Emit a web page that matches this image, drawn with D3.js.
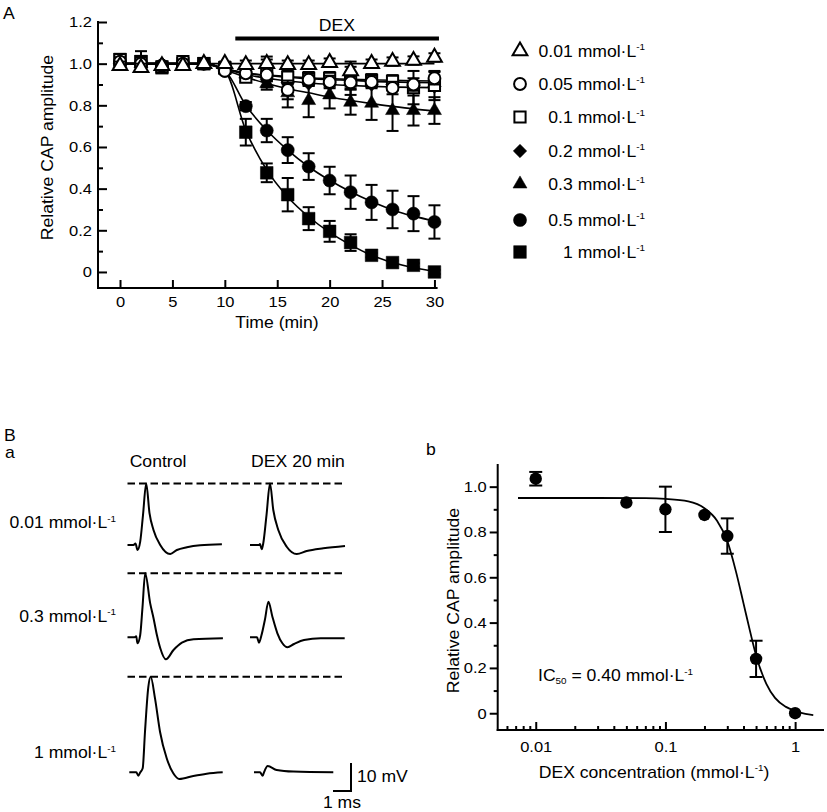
<!DOCTYPE html>
<html><head><meta charset="utf-8">
<script src="https://cdn.jsdelivr.net/npm/d3@7"></script>
<style>
body{margin:0;background:#fff}
svg{display:block}
text{font-family:"Liberation Sans",Arial,Helvetica,sans-serif;fill:#000}
</style>
</head><body>
<svg id="c" width="827" height="812"></svg>
<script>
// ---------------- DATA ----------------
// Panel A: time course (min)
const times = [0,2,4,6,8,10,12,14,16,18,20,22,24,26,28,30];
const concLabels = ["0.01","0.05","0.1","0.2","0.3","0.5","1"];
const mean001 = [0.99,0.98,0.99,0.99,1.0,1.0,0.995,1.0,0.995,0.995,1.005,0.965,1.0,1.01,1.015,1.03];
const err001  = [0.02,0.02,0.01,0.01,0.01,0.01,0.02,0.02,0.02,0.02,0.02,0.02,0.02,0.02,0.02,0.02];
const mean005 = [1.01,1.0,0.99,1.0,1.0,0.965,0.954,0.947,0.874,0.923,0.912,0.91,0.912,0.883,0.9,0.93];
const err005  = [0.02,0.03,0.01,0.01,0.01,0.01,0.02,0.03,0.045,0.03,0.03,0.03,0.03,0.03,0.03,0.03];
const mean01  = [1.02,1.01,0.985,1.01,1.0,0.98,0.935,0.96,0.935,0.93,0.93,0.93,0.92,0.915,0.885,0.895];
const err01   = [0.02,0.05,0.01,0.02,0.01,0.01,0.02,0.074,0.03,0.03,0.03,0.08,0.03,0.03,0.08,0.07];
const mean02  = [1.0,1.0,1.0,1.0,1.0,0.975,0.95,0.925,0.91,0.905,0.9,0.9,0.9,0.9,0.895,0.89];
const err02   = [0.01,0.01,0.01,0.01,0.01,0.01,0.01,0.01,0.01,0.01,0.01,0.01,0.01,0.01,0.01,0.01];
const mean03  = [1.0,1.0,0.99,1.0,1.0,0.99,0.95,0.905,0.86,0.823,0.85,0.815,0.81,0.775,0.775,0.775];
const err03   = [0.01,0.01,0.01,0.01,0.01,0.01,0.02,0.03,0.07,0.08,0.065,0.06,0.08,0.098,0.072,0.064];
const mean05  = [1.0,1.0,0.99,1.0,1.0,0.965,0.796,0.679,0.585,0.506,0.439,0.383,0.334,0.300,0.280,0.240];
const err05   = [0.01,0.01,0.01,0.01,0.01,0.01,0.02,0.056,0.062,0.064,0.066,0.08,0.084,0.09,0.084,0.08];
const mean1   = [1.02,1.01,0.98,1.0,1.0,0.98,0.671,0.476,0.371,0.256,0.195,0.141,0.08,0.045,0.032,0.0];
const err1    = [0.02,0.02,0.01,0.01,0.01,0.01,0.064,0.045,0.08,0.055,0.05,0.04,0.01,0.01,0.01,0.01];
// fitted curves
const fitTimes = [0,8,10,12,14,16,18,20,22,24,26,28,30];
const fit001 = [1,1,1,1,1,1,1,1,1,1,1,1,1];
const fit005 = [1,1,0.975,0.955,0.945,0.938,0.932,0.928,0.925,0.922,0.92,0.918,0.917];
const fit01  = [1,1,0.975,0.955,0.943,0.935,0.928,0.923,0.92,0.915,0.912,0.91,0.908];
const fit02  = [1,1,0.975,0.948,0.93,0.917,0.907,0.9,0.895,0.891,0.888,0.886,0.885];
const fit03  = [1,1,0.97,0.935,0.905,0.88,0.86,0.84,0.823,0.808,0.795,0.783,0.773];
const fit05  = [1,1,0.965,0.80,0.68,0.585,0.505,0.44,0.385,0.338,0.298,0.268,0.245];
const fit1   = [1,1,0.965,0.68,0.49,0.36,0.265,0.19,0.13,0.08,0.045,0.02,0.003];
const yTicksA = [0,0.2,0.4,0.6,0.8,1.0,1.2];
const yMinorA = [0.1,0.3,0.5,0.7,0.9,1.1];
const xTicksA = [0,5,10,15,20,25,30];
const dexBar = [11,30];   // DEX application period (min)

// Panel Ba: CAP traces (ms, mV)
const rowLabels = ["0.01","0.3","1"];
const colLabels = ["Control","DEX 20 min"];
const tr1c_t = [0,0.333,0.444,0.556,0.706,0.861,1.039,1.222,1.444,1.817,2.372,2.744,3.3,4.039,5.244];
const tr1c_v = [0,0,0.54,-1.79,1.18,10.7,22.0,11.4,5.36,0,-3.21,-1.79,-0.82,-0.11,0.25];
const tr1d_t = [0,0.5,0.556,0.65,0.739,0.917,1.111,1.294,1.572,2.039,2.594,3.15,4.072,5.278];
const tr1d_v = [0,0,0.36,-1.54,0.71,10.7,22.0,12.5,5.36,-0.61,-3.21,-2.14,-1.18,-0.36];
const tr2c_t = [0,0.389,0.483,0.556,0.706,0.833,0.983,1.261,1.444,1.633,1.817,2.133,2.556,3.022,3.667,5.3];
const tr2c_v = [0,0,0.36,-2.14,0.82,10.7,22.9,12.1,6.89,0.82,-3.82,-7.86,-4.54,-1.93,-0.71,-0.36];
const tr2d_t = [0,0.389,0.5,0.633,0.833,1.022,1.244,1.522,1.8,2.078,2.444,3,3.928,5.261];
const tr2d_v = [0,0,-1.93,0.61,6.43,12.7,7.36,1.43,-2.14,-3.57,-2.39,-0.96,-0.36,-0.36];
const tr3c_t = [0.1,0.489,0.6,0.711,0.844,0.972,1.156,1.289,1.528,1.806,2.178,2.544,2.878,3.656,4.4,5.289];
const tr3c_v = [0,0,-1.21,0,1.43,14.5,30.4,34.1,26.4,14.5,5,-0.36,-2.39,-1.32,-0.5,0];
const tr3d_t = [0.222,0.556,0.706,0.778,0.983,1.483,2.406,4.628];
const tr3d_v = [0,0,-1.21,0,2.25,0.82,0.25,0];
const scaleBarMs = 1, scaleBarMv = 10;

// Panel Bb: concentration-response
const concB = [0.01,0.05,0.1,0.2,0.3,0.5,1];
const ampB  = [1.035,0.93,0.90,0.875,0.782,0.24,0.0];
const errB  = [0.03,0.0,0.10,0.0,0.078,0.08,0.0];
const fitB_x = [0.0073,0.03,0.07,0.1,0.15,0.2,0.25,0.3,0.35,0.4,0.45,0.5,0.6,0.7,0.85,1,1.2,1.38];
const fitB_y = [0.95,0.95,0.949,0.946,0.935,0.905,0.85,0.76,0.625,0.485,0.36,0.255,0.13,0.068,0.028,0.01,-0.003,-0.008];
const yTicksB = [0,0.2,0.4,0.6,0.8,1.0];
const yMinorB = [0.1,0.3,0.5,0.7,0.9];
const xTicksB = [0.01,0.1,1];
const xMinorB = [0.006,0.007,0.008,0.009,0.02,0.03,0.04,0.05,0.06,0.07,0.08,0.09,0.2,0.3,0.4,0.5,0.6,0.7,0.8,0.9];

// ---------------- HELPERS ----------------
const svg = d3.select('#c');
const SX = 1.1;
function label(g, x, y, parts, o = {}) {
  const size = o.size || 16;
  const t = g.append('text')
    .attr('transform', `translate(${x},${y})${o.rot ? ' rotate(-90)' : ''} scale(${SX},1)`)
    .attr('font-size', size)
    .attr('text-anchor', o.anchor || 'start');
  if (typeof parts === 'string') parts = [[parts]];
  let cur = 0;
  parts.forEach(([s, mode]) => {
    let target = 0, fs = size;
    if (mode === 'sup') { target = -size * 0.38; fs = size * 0.56; }
    if (mode === 'sub') { target = size * 0.2; fs = size * 0.56; }
    const ts = t.append('tspan').text(s).attr('font-size', fs);
    if (target !== cur) ts.attr('dy', target - cur);
    cur = target;
  });
  return t;
}
const unit = (pre) => [[pre + ' mmol·L'], ['-1', 'sup']];

// ---------------- PANEL A ----------------
const gA = svg.append('g');
const xA = d3.scaleLinear().domain([-2.1, 30.3]).range([98, 437.6]);
const yA = d3.scaleLinear().domain([-0.077, 1.2]).range([288, 22]);

label(gA, 3, 18.5, 'A');

// axes
const axA_y = gA.append('g').attr('transform', `translate(${xA.range()[0]},0)`)
  .call(d3.axisLeft(yA).tickValues(yTicksA).tickSize(-9).tickPadding(5.5)
    .tickFormat(d => d === 0 ? '0' : d.toFixed(1)));
axA_y.select('.domain').remove();
const axA_ym = gA.append('g').attr('transform', `translate(${xA.range()[0]},0)`)
  .call(d3.axisLeft(yA).tickValues(yMinorA).tickSize(-5).tickFormat(''));
axA_ym.select('.domain').remove();
const axA_x = gA.append('g').attr('transform', `translate(0,${yA.range()[0]})`)
  .call(d3.axisBottom(xA).tickValues(xTicksA).tickSize(-8).tickPadding(8));
axA_x.select('.domain').remove();
[axA_y, axA_ym, axA_x].forEach(a => {
  a.selectAll('line').attr('stroke', '#000').attr('stroke-width', 2);
  a.selectAll('text').attr('font-size', 15).attr('transform', `scale(${SX},1)`)
    .style('font-family', '"Liberation Sans",Arial,sans-serif');
});
gA.append('line').attr('x1', xA.range()[0]).attr('x2', xA.range()[0])
  .attr('y1', yA(1.2) - 1).attr('y2', yA.range()[0] + 1).attr('stroke', '#000').attr('stroke-width', 2);
gA.append('line').attr('x1', xA.range()[0] - 1).attr('x2', xA.range()[1])
  .attr('y1', yA.range()[0]).attr('y2', yA.range()[0]).attr('stroke', '#000').attr('stroke-width', 2);

label(gA, 53, 147.5, 'Relative CAP amplitude', { rot: true, anchor: 'middle' });
label(gA, 277, 328, 'Time (min)', { anchor: 'middle' });

// DEX bar
gA.append('rect').attr('x', xA(dexBar[0])).attr('width', xA(dexBar[1]) - xA(dexBar[0]) + 4.5)
  .attr('y', 36.5).attr('height', 4).attr('fill', '#000');
label(gA, (xA(dexBar[0]) + xA(dexBar[1])) / 2 + 2, 30.5, 'DEX', { anchor: 'middle' });

const symbols = {
  triOpen:  { type: d3.symbolTriangle, size: 95, fill: '#fff' },
  cirOpen:  { type: d3.symbolCircle, size: 110, fill: '#fff' },
  sqOpen:   { type: d3.symbolSquare, size: 125, fill: '#fff' },
  diamond:  { type: d3.symbolSquare, size: 90, fill: '#000', rot: 45 },
  triFill:  { type: d3.symbolTriangle, size: 85, fill: '#000' },
  cirFill:  { type: d3.symbolCircle, size: 135, fill: '#000' },
  sqFill:   { type: d3.symbolSquare, size: 160, fill: '#000' }
};
const seriesA = [
  { lab: concLabels[0], mean: mean001, err: err001, fit: fit001, sym: 'triOpen' },
  { lab: concLabels[1], mean: mean005, err: err005, fit: fit005, sym: 'cirOpen' },
  { lab: concLabels[2], mean: mean01,  err: err01,  fit: fit01,  sym: 'sqOpen' },
  { lab: concLabels[3], mean: mean02,  err: err02,  fit: fit02,  sym: 'diamond' },
  { lab: concLabels[4], mean: mean03,  err: err03,  fit: fit03,  sym: 'triFill' },
  { lab: concLabels[5], mean: mean05,  err: err05,  fit: fit05,  sym: 'cirFill' },
  { lab: concLabels[6], mean: mean1,   err: err1,   fit: fit1,   sym: 'sqFill' }
];
function drawSym(g, key, x, y) {
  const s = symbols[key];
  return g.append('path').attr('d', d3.symbol(s.type, s.size)())
    .attr('transform', `translate(${x},${y})${s.rot ? ' rotate(' + s.rot + ')' : ''}`)
    .attr('fill', s.fill).attr('stroke', '#000')
    .attr('stroke-width', s.fill === '#fff' ? 2 : 0.5);
}
// fits
const lineA = d3.line().x(d => xA(d[0])).y(d => yA(d[1])).curve(d3.curveMonotoneX);
seriesA.forEach(s => {
  gA.append('path').attr('d', lineA(fitTimes.map((t, i) => [t, s.fit[i]])))
    .attr('fill', 'none').attr('stroke', '#000').attr('stroke-width', 1.6);
});
// error bars & markers, drawn from the highest concentration to the lowest
seriesA.slice().reverse().forEach(s => {
  const g = gA.append('g');
  times.forEach((t, i) => {
    const x = xA(t), y1 = yA(s.mean[i] - s.err[i]), y2 = yA(s.mean[i] + s.err[i]);
    g.append('line').attr('x1', x).attr('x2', x).attr('y1', y1).attr('y2', y2).attr('stroke', '#000').attr('stroke-width', 2);
    [y1, y2].forEach(yy => g.append('line').attr('x1', x - 6).attr('x2', x + 6).attr('y1', yy).attr('y2', yy)
      .attr('stroke', '#000').attr('stroke-width', 2));
  });
  times.forEach((t, i) => drawSym(g, s.sym, xA(t), yA(s.mean[i])));
});
// legend
const legRows = [51, 84, 117, 151, 184, 220, 252];
seriesA.forEach((s, i) => {
  drawSym(gA, s.sym, 520, legRows[i]);
  label(gA, 645, legRows[i] + 5.5, unit(s.lab), { anchor: 'end' });
});

// ---------------- PANEL B a ----------------
const gB = svg.append('g');
label(gB, 4, 441, 'B');
label(gB, 5, 458, 'a');
const colX = [127.5, 250];
const rowBase = [545, 637.3, 772.3];
const msX = d3.scaleLinear().domain([0, 1]).range([0, 18]);
const mvY = d3.scaleLinear().domain([0, 10]).range([0, -28]);
const traces = [
  [[tr1c_t, tr1c_v], [tr1d_t, tr1d_v]],
  [[tr2c_t, tr2c_v], [tr2d_t, tr2d_v]],
  [[tr3c_t, tr3c_v], [tr3d_t, tr3d_v]]
];
const lineT = d3.line().x(d => msX(d[0])).y(d => mvY(d[1])).curve(d3.curveMonotoneX);
traces.forEach((row, r) => {
  const peak = d3.max(row[0][1]);
  gB.append('line').attr('x1', colX[0]).attr('x2', colX[1] + 95.5)
    .attr('y1', rowBase[r] + mvY(peak)).attr('y2', rowBase[r] + mvY(peak))
    .attr('stroke', '#000').attr('stroke-width', 2).attr('stroke-dasharray', '7.5,4');
  row.forEach((tr, c) => {
    gB.append('path').attr('transform', `translate(${colX[c]},${rowBase[r]})`)
      .attr('d', lineT(tr[0].map((t, i) => [t, tr[1][i]])))
      .attr('fill', 'none').attr('stroke', '#000').attr('stroke-width', 2).attr('stroke-linejoin', 'round');
  });
});
label(gB, 158, 467, colLabels[0], { anchor: 'middle' });
label(gB, 298, 467, colLabels[1], { anchor: 'middle' });
const rowLabelY = [528, 621.5, 758.3];
rowLabels.forEach((l, r) => label(gB, 116, rowLabelY[r], unit(l), { anchor: 'end' }));
// scale bar
const sbX = 351, sbY = 791;
gB.append('path')
  .attr('d', `M${sbX},${sbY + mvY(scaleBarMv)}V${sbY}H${sbX - msX(scaleBarMs)}`)
  .attr('fill', 'none').attr('stroke', '#000').attr('stroke-width', 2);
label(gB, 357, 782, '10 mV');
label(gB, 342, 808, '1 ms', { anchor: 'middle' });

// ---------------- PANEL B b ----------------
const gC = svg.append('g');
label(gC, 426, 455, 'b');
const xB = d3.scaleLog().domain([0.00509, 1.67]).range([497.7, 824]);
const yB = d3.scaleLinear().domain([-0.074, 1.1]).range([730, 464]);
const axB_y = gC.append('g').attr('transform', `translate(${xB.range()[0]},0)`)
  .call(d3.axisLeft(yB).tickValues(yTicksB).tickSize(8).tickPadding(2)
    .tickFormat(d => d === 0 ? '0' : d.toFixed(1)));
axB_y.select('.domain').remove();
const axB_ym = gC.append('g').attr('transform', `translate(${xB.range()[0]},0)`)
  .call(d3.axisLeft(yB).tickValues(yMinorB).tickSize(4).tickFormat(''));
axB_ym.select('.domain').remove();
const axB_x = gC.append('g').attr('transform', `translate(0,${yB.range()[0]})`)
  .call(d3.axisBottom(xB).tickValues(xTicksB).tickSize(-8).tickPadding(11.5).tickFormat(d3.format('~g')));
axB_x.select('.domain').remove();
const axB_xm = gC.append('g').attr('transform', `translate(0,${yB.range()[0]})`)
  .call(d3.axisBottom(xB).tickValues(xMinorB).tickSize(-4).tickFormat(''));
axB_xm.select('.domain').remove();
[axB_y, axB_ym, axB_x, axB_xm].forEach(a => {
  a.selectAll('line').attr('stroke', '#000').attr('stroke-width', 2);
  a.selectAll('text').attr('font-size', 15).attr('transform', `scale(${SX},1)`)
    .style('font-family', '"Liberation Sans",Arial,sans-serif');
});
gC.append('line').attr('x1', xB.range()[0]).attr('x2', xB.range()[0])
  .attr('y1', yB.range()[1]).attr('y2', yB.range()[0] + 1).attr('stroke', '#000').attr('stroke-width', 2);
gC.append('line').attr('x1', xB.range()[0] - 1).attr('x2', xB.range()[1])
  .attr('y1', yB.range()[0]).attr('y2', yB.range()[0]).attr('stroke', '#000').attr('stroke-width', 2);
label(gC, 459, 600.5, 'Relative CAP amplitude', { rot: true, anchor: 'middle' });
label(gC, 654, 777.5, [['DEX concentration (mmol·L'], ['-1', 'sup'], [')']], { anchor: 'middle' });
label(gC, 538, 681, [['IC'], ['50', 'sub'], [' = 0.40 mmol·L'], ['-1', 'sup']]);
// fit
const lineB = d3.line().x(d => xB(d[0])).y(d => yB(d[1])).curve(d3.curveMonotoneX);
gC.append('path').attr('d', lineB(fitB_x.map((x, i) => [x, fitB_y[i]])))
  .attr('fill', 'none').attr('stroke', '#000').attr('stroke-width', 1.8);
concB.forEach((c, i) => {
  const x = xB(c);
  if (errB[i] > 0) {
    const y1 = yB(ampB[i] - errB[i]), y2 = yB(ampB[i] + errB[i]);
    gC.append('line').attr('x1', x).attr('x2', x).attr('y1', y1).attr('y2', y2).attr('stroke', '#000').attr('stroke-width', 2);
    [y1, y2].forEach(yy => gC.append('line').attr('x1', x - 6.5).attr('x2', x + 6.5).attr('y1', yy).attr('y2', yy)
      .attr('stroke', '#000').attr('stroke-width', 2));
  }
  gC.append('circle').attr('cx', x).attr('cy', yB(ampB[i])).attr('r', 6.2).attr('fill', '#000');
});
</script>
</body></html>
